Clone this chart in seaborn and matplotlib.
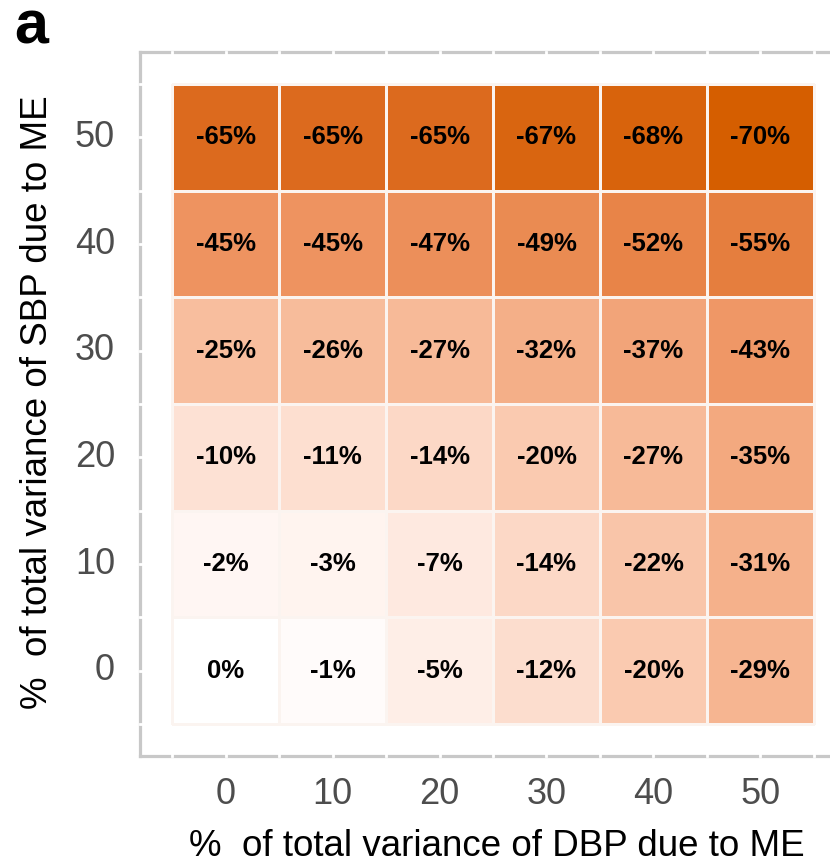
import numpy as np
import pandas as pd
import matplotlib
matplotlib.use("Agg")
import matplotlib.pyplot as plt
import seaborn as sns
from matplotlib.colors import LinearSegmentedColormap

# ---- data ----
dbp_levels = [0, 10, 20, 30, 40, 50]          # x categories
sbp_levels = [50, 40, 30, 20, 10, 0]          # y categories (top to bottom)
row_sbp50 = [-65, -65, -65, -67, -68, -70]
row_sbp40 = [-45, -45, -47, -49, -52, -55]
row_sbp30 = [-25, -26, -27, -32, -37, -43]
row_sbp20 = [-10, -11, -14, -20, -27, -35]
row_sbp10 = [-2, -3, -7, -14, -22, -31]
row_sbp0 = [0, -1, -5, -12, -20, -29]

values = np.array([row_sbp50, row_sbp40, row_sbp30, row_sbp20, row_sbp10, row_sbp0])
df = pd.DataFrame(values, index=sbp_levels, columns=dbp_levels)
annot = df.map(lambda v: f"{v}%")

plt.rcParams['font.family'] = ['Liberation Sans', 'DejaVu Sans']

# colour scale white -> vermillion (approximating Lab gradient)
stops = [(-70, '#D55E00'), (-65, '#DC6A1E'), (-45, '#EE9360'), (-25, '#F8BE9E'),
         (-10, '#FDE1D4'), (-2, '#FFF6F2'), (0, '#FFFFFF')]
cmap = LinearSegmentedColormap.from_list(
    'ver', [((v + 70) / 70, c) for v, c in stops])

fig = plt.figure(figsize=(8.30, 8.67), dpi=100)
ax = fig.add_axes([140 / 830, 1 - 756 / 867, 706 / 830, 704 / 867])

sns.heatmap(df, annot=annot, fmt='', cmap=cmap, vmin=-70, vmax=0, cbar=False,
            linewidths=1, linecolor='#FBF4F0', ax=ax,
            annot_kws=dict(color='black', fontsize=18.5, fontweight='bold'))

ax.set_xlim(-0.3, 6.3)
ax.set_ylim(6.3, -0.3)

# panel border
for s in ax.spines.values():
    s.set_visible(True)
    s.set_color('#C8C8C8')
    s.set_linewidth(2.3)
    s.set_zorder(0.3)

# white grid lines (major + minor) that notch the border
for p in np.arange(0, 6.01, 0.5):
    ax.axvline(p, color='white', lw=2, zorder=0.5, clip_on=False)
    ax.axhline(p, color='white', lw=2, zorder=0.5, clip_on=False)

ax.set_xticks(np.arange(6) + 0.5)
ax.set_xticklabels([str(v) for v in dbp_levels], rotation=0)
ax.set_yticks(np.arange(6) + 0.5)
ax.set_yticklabels([str(v) for v in sbp_levels], rotation=0)
ax.tick_params(axis='both', length=0, labelsize=26, labelcolor='#4D4D4D')
ax.tick_params(axis='x', pad=15)
ax.tick_params(axis='y', pad=18)

ax.set_xlabel('%  of total variance of DBP due to ME', fontsize=26.5, color='black')
ax.set_ylabel('%  of total variance of SBP due to ME', fontsize=26.5, color='black')
ax.xaxis.label.set_va('center')
ax.yaxis.label.set_va('center')
ax.xaxis.set_label_coords((497 - 140) / 706, -(846 - 756) / 704)
ax.yaxis.set_label_coords((38 - 140) / 706, (756 - 402) / 704)

fig.text(14 / 830, 1 - 44 / 867, 'a', fontsize=44, fontweight='bold', ha='left', va='baseline')

fig.savefig('out.png', dpi=100)
